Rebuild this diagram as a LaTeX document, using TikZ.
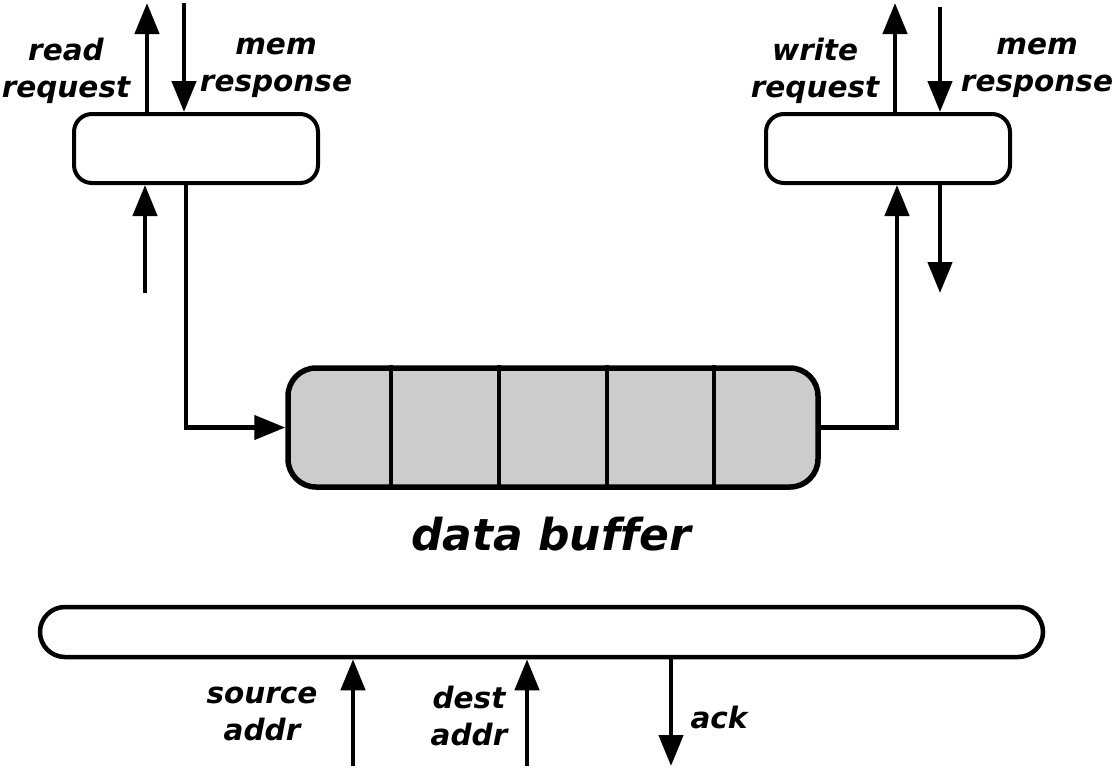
\documentclass[tikz,border=0pt]{standalone}
\usepackage{fontspec}
\setmainfont{DejaVu Sans}[Ligatures=NoCommon]
\usetikzlibrary{arrows.meta}
\begin{document}
\begin{tikzpicture}[x=1pt,y=-1pt,
  wire/.style={line width=4.5pt},
  arr/.style={wire,-{Triangle[length=31pt,width=24pt]}},
  port/.style={draw,line width=4pt,rounded corners=18pt,minimum width=244pt,
    minimum height=69pt,inner sep=0pt},
  lbl/.style={font=\fontsize{29.5}{37}\selectfont\bfseries\itshape,align=center,
    inner sep=0pt},
  title/.style={font=\fontsize{44}{48}\selectfont\bfseries\itshape,inner sep=0pt},
]
\useasboundingbox (0,0) rectangle (1115,769);

% read and write ports
\node[port] (rd) at (196,148.5) {};
\node[port] (wr) at (888,148.5) {};

% data buffer with its slots
\node[draw,line width=5.5pt,fill=black!20,rounded corners=28pt,minimum width=530pt,
  minimum height=119pt,inner sep=0pt] (buf) at (553,427.5) {};
\foreach \x in {391,499,607,714}
  \draw[line width=4.5pt] (buf.north -| \x,0) -- (buf.south -| \x,0);
\node[title] (buftxt) at (551,534) {data buffer};

% control bar
\node[draw,line width=4.5pt,rounded corners=25pt,minimum width=1003pt,
  minimum height=50pt,inner sep=0pt] (ctl) at (541.5,632) {};

% free ends of the connectors
\coordinate (rq) at (147,3);
\coordinate (rm) at (184,3);
\coordinate (ri) at (145,293);
\coordinate (ro) at (186,293);
\coordinate (wq) at (895,3);
\coordinate (wm) at (940,7);
\coordinate (wi) at (897,293);
\coordinate (wo) at (940,293);
\coordinate (sa) at (353,766);
\coordinate (da) at (527,766);
\coordinate (ak) at (671,766);

% read side
\draw[arr] (rd.north -| rq) -- (rq);
\draw[arr] (rm) -- (rd.north -| rm);
\draw[arr] (ri) -- (rd.south -| ri);
\draw[arr] (rd.south -| ro) |- (buf.west);

% write side
\draw[arr] (wq |- wr.north) -- (wq);
\draw[arr] (wm) -- (wr.north -| wm);
\draw[arr] (buf.east) -| (wr.south -| wi);
\draw[arr] (wr.south -| wo) -- (wo);

% control bar signals
\draw[arr] (sa) -- (ctl.south -| sa);
\draw[arr] (da) -- (ctl.south -| da);
\draw[arr] (ctl.south -| ak) -- (ak);

% labels
\node[lbl] (l1) at (66,71) {read\\request};
\node[lbl] (l2) at (276,68) {mem\\response};
\node[lbl] (l3) at (815,71) {write\\request};
\node[lbl] (l4) at (1037,68) {mem\\response};
\node[lbl] (l5) at (262,714) {source\\addr};
\node[lbl] (l6) at (469,716) {dest\\addr};
\node[lbl] (l7) at (719,717) {ack};
\end{tikzpicture}
\end{document}
